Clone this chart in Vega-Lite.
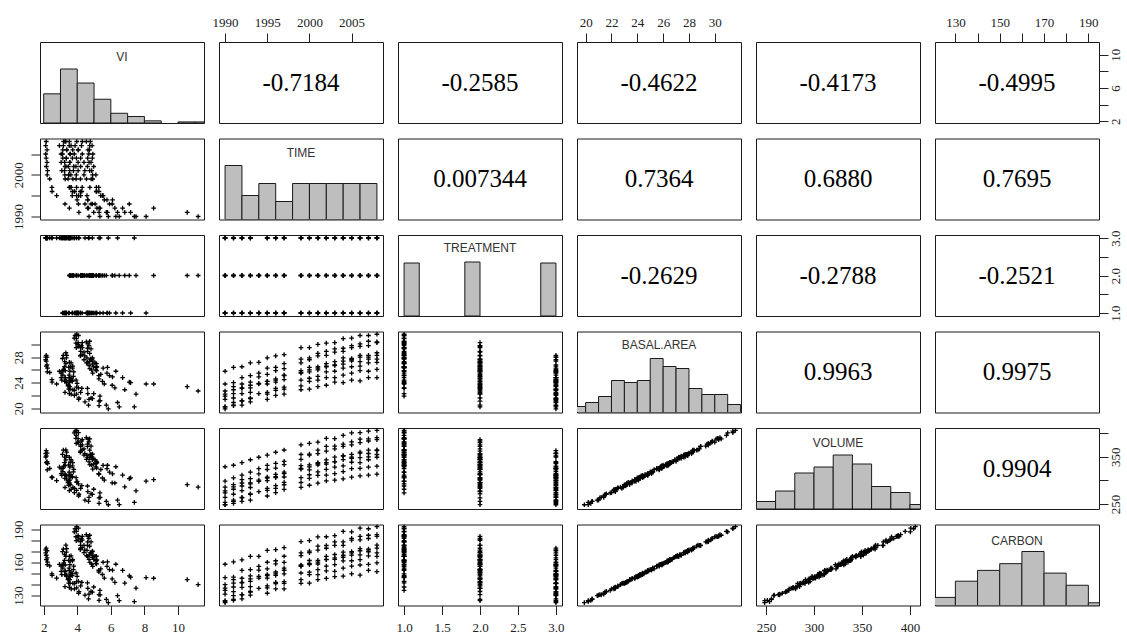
{
"$schema": "https://vega.github.io/schema/vega-lite/v6.json",
"background": "white",
"padding": {"left": 11, "top": 15, "right": 5, "bottom": 0},
"datasets": {
"d": [
{"VI":6.3,"TIME":1990,"TREATMENT":1,"BA":25.8,"VOLUME":328.7,"CARBON":158.5},
{"VI":5.8,"TIME":1991,"TREATMENT":1,"BA":26.4,"VOLUME":331.9,"CARBON":160.7},
{"VI":5.17,"TIME":1992,"TREATMENT":1,"BA":26.5,"VOLUME":337.2,"CARBON":162.4},
{"VI":5.06,"TIME":1993,"TREATMENT":1,"BA":27.1,"VOLUME":343.4,"CARBON":165.6},
{"VI":4.62,"TIME":1994,"TREATMENT":1,"BA":27.2,"VOLUME":348.7,"CARBON":165.7},
{"VI":4.58,"TIME":1995,"TREATMENT":1,"BA":27.9,"VOLUME":353.2,"CARBON":171.2},
{"VI":4.18,"TIME":1996,"TREATMENT":1,"BA":28.2,"VOLUME":359.3,"CARBON":171.9},
{"VI":4.29,"TIME":1997,"TREATMENT":1,"BA":28.4,"VOLUME":364.0,"CARBON":173.7},
{"VI":4.19,"TIME":1999,"TREATMENT":1,"BA":29.5,"VOLUME":375.0,"CARBON":179.2},
{"VI":3.94,"TIME":2000,"TREATMENT":1,"BA":29.5,"VOLUME":378.0,"CARBON":180.0},
{"VI":4.05,"TIME":2001,"TREATMENT":1,"BA":30.0,"VOLUME":380.7,"CARBON":183.5},
{"VI":3.92,"TIME":2002,"TREATMENT":1,"BA":30.2,"VOLUME":388.5,"CARBON":183.6},
{"VI":4.05,"TIME":2003,"TREATMENT":1,"BA":30.3,"VOLUME":387.8,"CARBON":184.6},
{"VI":3.95,"TIME":2004,"TREATMENT":1,"BA":30.9,"VOLUME":395.0,"CARBON":188.6},
{"VI":3.82,"TIME":2005,"TREATMENT":1,"BA":31.0,"VOLUME":400.3,"CARBON":188.0},
{"VI":4.07,"TIME":2006,"TREATMENT":1,"BA":31.4,"VOLUME":400.8,"CARBON":191.4},
{"VI":3.87,"TIME":2007,"TREATMENT":1,"BA":31.4,"VOLUME":403.8,"CARBON":190.9},
{"VI":3.97,"TIME":2008,"TREATMENT":1,"BA":31.6,"VOLUME":405.5,"CARBON":192.8},
{"VI":8.1,"TIME":1990,"TREATMENT":1,"BA":23.8,"VOLUME":298.5,"CARBON":146.2},
{"VI":7.18,"TIME":1991,"TREATMENT":1,"BA":24.0,"VOLUME":305.3,"CARBON":146.8},
{"VI":6.7,"TIME":1992,"TREATMENT":1,"BA":24.8,"VOLUME":311.1,"CARBON":152.9},
{"VI":5.92,"TIME":1993,"TREATMENT":1,"BA":25.1,"VOLUME":317.2,"CARBON":153.5},
{"VI":5.77,"TIME":1994,"TREATMENT":1,"BA":25.5,"VOLUME":324.6,"CARBON":156.6},
{"VI":5.54,"TIME":1995,"TREATMENT":1,"BA":26.3,"VOLUME":331.5,"CARBON":160.3},
{"VI":5.13,"TIME":1996,"TREATMENT":1,"BA":26.4,"VOLUME":335.9,"CARBON":161.7},
{"VI":5.14,"TIME":1997,"TREATMENT":1,"BA":27.0,"VOLUME":340.0,"CARBON":165.8},
{"VI":4.83,"TIME":1999,"TREATMENT":1,"BA":27.7,"VOLUME":354.5,"CARBON":168.8},
{"VI":4.91,"TIME":2000,"TREATMENT":1,"BA":27.9,"VOLUME":355.2,"CARBON":170.4},
{"VI":4.74,"TIME":2001,"TREATMENT":1,"BA":28.6,"VOLUME":363.7,"CARBON":175.0},
{"VI":4.61,"TIME":2002,"TREATMENT":1,"BA":28.9,"VOLUME":371.8,"CARBON":175.6},
{"VI":4.82,"TIME":2003,"TREATMENT":1,"BA":29.3,"VOLUME":372.2,"CARBON":179.0},
{"VI":4.62,"TIME":2004,"TREATMENT":1,"BA":29.4,"VOLUME":376.6,"CARBON":179.0},
{"VI":4.69,"TIME":2005,"TREATMENT":1,"BA":29.8,"VOLUME":381.0,"CARBON":182.2},
{"VI":4.64,"TIME":2006,"TREATMENT":1,"BA":30.1,"VOLUME":387.1,"CARBON":183.9},
{"VI":4.74,"TIME":2007,"TREATMENT":1,"BA":30.5,"VOLUME":387.5,"CARBON":185.0},
{"VI":4.54,"TIME":2008,"TREATMENT":1,"BA":30.4,"VOLUME":390.2,"CARBON":185.5},
{"VI":5.35,"TIME":1990,"TREATMENT":1,"BA":21.9,"VOLUME":273.7,"CARBON":134.6},
{"VI":4.98,"TIME":1991,"TREATMENT":1,"BA":22.3,"VOLUME":281.2,"CARBON":137.7},
{"VI":4.61,"TIME":1992,"TREATMENT":1,"BA":23.1,"VOLUME":288.1,"CARBON":141.4},
{"VI":4.07,"TIME":1993,"TREATMENT":1,"BA":23.2,"VOLUME":292.4,"CARBON":142.8},
{"VI":3.99,"TIME":1994,"TREATMENT":1,"BA":23.9,"VOLUME":297.9,"CARBON":147.4},
{"VI":3.7,"TIME":1995,"TREATMENT":1,"BA":24.2,"VOLUME":307.0,"CARBON":148.1},
{"VI":3.71,"TIME":1996,"TREATMENT":1,"BA":24.4,"VOLUME":307.7,"CARBON":149.7},
{"VI":3.52,"TIME":1997,"TREATMENT":1,"BA":25.2,"VOLUME":317.5,"CARBON":154.9},
{"VI":3.28,"TIME":1999,"TREATMENT":1,"BA":25.9,"VOLUME":331.0,"CARBON":157.8},
{"VI":3.49,"TIME":2000,"TREATMENT":1,"BA":26.4,"VOLUME":332.8,"CARBON":161.9},
{"VI":3.24,"TIME":2001,"TREATMENT":1,"BA":26.5,"VOLUME":337.2,"CARBON":162.0},
{"VI":3.32,"TIME":2002,"TREATMENT":1,"BA":27.0,"VOLUME":343.0,"CARBON":165.7},
{"VI":3.25,"TIME":2003,"TREATMENT":1,"BA":27.3,"VOLUME":349.1,"CARBON":167.4},
{"VI":3.35,"TIME":2004,"TREATMENT":1,"BA":27.9,"VOLUME":352.2,"CARBON":169.6},
{"VI":3.12,"TIME":2005,"TREATMENT":1,"BA":27.8,"VOLUME":354.9,"CARBON":170.1},
{"VI":3.37,"TIME":2006,"TREATMENT":1,"BA":28.3,"VOLUME":359.7,"CARBON":172.8},
{"VI":3.17,"TIME":2007,"TREATMENT":1,"BA":28.3,"VOLUME":363.7,"CARBON":172.3},
{"VI":3.32,"TIME":2008,"TREATMENT":1,"BA":28.7,"VOLUME":364.1,"CARBON":175.9},
{"VI":11.2,"TIME":1990,"TREATMENT":2,"BA":22.7,"VOLUME":285.6,"CARBON":139.8},
{"VI":10.55,"TIME":1991,"TREATMENT":2,"BA":23.4,"VOLUME":291.1,"CARBON":144.5},
{"VI":8.55,"TIME":1992,"TREATMENT":2,"BA":23.8,"VOLUME":301.6,"CARBON":145.7},
{"VI":7.1,"TIME":1993,"TREATMENT":2,"BA":24.1,"VOLUME":303.7,"CARBON":147.9},
{"VI":6.1,"TIME":1994,"TREATMENT":2,"BA":24.9,"VOLUME":313.5,"CARBON":153.1},
{"VI":5.4,"TIME":1995,"TREATMENT":2,"BA":25.3,"VOLUME":322.9,"CARBON":154.3},
{"VI":5.15,"TIME":1996,"TREATMENT":2,"BA":25.9,"VOLUME":326.0,"CARBON":158.8},
{"VI":4.75,"TIME":1997,"TREATMENT":2,"BA":26.2,"VOLUME":333.1,"CARBON":160.2},
{"VI":4.55,"TIME":1999,"TREATMENT":2,"BA":27.1,"VOLUME":344.4,"CARBON":166.3},
{"VI":4.4,"TIME":2000,"TREATMENT":2,"BA":27.6,"VOLUME":353.1,"CARBON":169.1},
{"VI":4.45,"TIME":2001,"TREATMENT":2,"BA":28.2,"VOLUME":356.3,"CARBON":171.4},
{"VI":4.2,"TIME":2002,"TREATMENT":2,"BA":28.3,"VOLUME":361.7,"CARBON":173.1},
{"VI":4.4,"TIME":2003,"TREATMENT":2,"BA":28.8,"VOLUME":366.5,"CARBON":175.7},
{"VI":4.2,"TIME":2004,"TREATMENT":2,"BA":28.9,"VOLUME":371.8,"CARBON":175.8},
{"VI":4.3,"TIME":2005,"TREATMENT":2,"BA":29.5,"VOLUME":375.0,"CARBON":180.6},
{"VI":4.05,"TIME":2006,"TREATMENT":2,"BA":29.7,"VOLUME":379.7,"CARBON":180.7},
{"VI":4.25,"TIME":2007,"TREATMENT":2,"BA":29.8,"VOLUME":383.0,"CARBON":182.0},
{"VI":4.3,"TIME":2008,"TREATMENT":2,"BA":30.3,"VOLUME":385.8,"CARBON":184.0},
{"VI":7.5,"TIME":1990,"TREATMENT":2,"BA":22.2,"VOLUME":277.8,"CARBON":136.7},
{"VI":6.83,"TIME":1991,"TREATMENT":2,"BA":22.9,"VOLUME":286.3,"CARBON":141.3},
{"VI":6.24,"TIME":1992,"TREATMENT":2,"BA":23.2,"VOLUME":294.4,"CARBON":141.9},
{"VI":6.08,"TIME":1993,"TREATMENT":2,"BA":23.6,"VOLUME":294.8,"CARBON":145.2},
{"VI":5.61,"TIME":1994,"TREATMENT":2,"BA":23.8,"VOLUME":300.6,"CARBON":145.9},
{"VI":5.5,"TIME":1995,"TREATMENT":2,"BA":24.2,"VOLUME":305.0,"CARBON":149.1},
{"VI":5.29,"TIME":1996,"TREATMENT":2,"BA":24.6,"VOLUME":312.5,"CARBON":151.4},
{"VI":5.28,"TIME":1997,"TREATMENT":2,"BA":25.1,"VOLUME":314.2,"CARBON":153.0},
{"VI":4.92,"TIME":1999,"TREATMENT":2,"BA":25.5,"VOLUME":323.6,"CARBON":156.5},
{"VI":5.11,"TIME":2000,"TREATMENT":2,"BA":26.0,"VOLUME":328.4,"CARBON":159.2},
{"VI":4.86,"TIME":2001,"TREATMENT":2,"BA":26.0,"VOLUME":332.4,"CARBON":158.7},
{"VI":4.98,"TIME":2002,"TREATMENT":2,"BA":26.5,"VOLUME":334.2,"CARBON":163.0},
{"VI":4.7,"TIME":2003,"TREATMENT":2,"BA":26.7,"VOLUME":338.9,"CARBON":163.0},
{"VI":4.9,"TIME":2004,"TREATMENT":2,"BA":26.9,"VOLUME":343.6,"CARBON":164.9},
{"VI":4.93,"TIME":2005,"TREATMENT":2,"BA":27.4,"VOLUME":346.4,"CARBON":166.9},
{"VI":4.73,"TIME":2006,"TREATMENT":2,"BA":27.3,"VOLUME":348.1,"CARBON":167.1},
{"VI":4.88,"TIME":2007,"TREATMENT":2,"BA":27.7,"VOLUME":349.5,"CARBON":169.9},
{"VI":4.78,"TIME":2008,"TREATMENT":2,"BA":27.7,"VOLUME":354.5,"CARBON":168.8},
{"VI":6.5,"TIME":1990,"TREATMENT":2,"BA":20.2,"VOLUME":248.7,"CARBON":125.2},
{"VI":5.73,"TIME":1991,"TREATMENT":2,"BA":20.5,"VOLUME":255.7,"CARBON":126.4},
{"VI":5.3,"TIME":1992,"TREATMENT":2,"BA":21.1,"VOLUME":262.9,"CARBON":130.8},
{"VI":4.82,"TIME":1993,"TREATMENT":2,"BA":21.6,"VOLUME":271.7,"CARBON":133.6},
{"VI":4.63,"TIME":1994,"TREATMENT":2,"BA":22.3,"VOLUME":276.2,"CARBON":136.5},
{"VI":4.2,"TIME":1995,"TREATMENT":2,"BA":22.5,"VOLUME":282.9,"CARBON":138.8},
{"VI":4.27,"TIME":1996,"TREATMENT":2,"BA":23.1,"VOLUME":289.1,"CARBON":142.0},
{"VI":3.96,"TIME":1997,"TREATMENT":2,"BA":23.3,"VOLUME":295.8,"CARBON":142.7},
{"VI":3.93,"TIME":1999,"TREATMENT":2,"BA":24.4,"VOLUME":305.7,"CARBON":150.5},
{"VI":3.62,"TIME":2000,"TREATMENT":2,"BA":24.7,"VOLUME":311.8,"CARBON":151.2},
{"VI":3.77,"TIME":2001,"TREATMENT":2,"BA":25.0,"VOLUME":317.8,"CARBON":153.6},
{"VI":3.79,"TIME":2002,"TREATMENT":2,"BA":25.7,"VOLUME":323.3,"CARBON":156.8},
{"VI":3.56,"TIME":2003,"TREATMENT":2,"BA":25.8,"VOLUME":327.7,"CARBON":158.2},
{"VI":3.71,"TIME":2004,"TREATMENT":2,"BA":26.3,"VOLUME":330.5,"CARBON":161.6},
{"VI":3.58,"TIME":2005,"TREATMENT":2,"BA":26.5,"VOLUME":338.2,"CARBON":161.7},
{"VI":3.73,"TIME":2006,"TREATMENT":2,"BA":26.6,"VOLUME":337.5,"CARBON":162.7},
{"VI":3.63,"TIME":2007,"TREATMENT":2,"BA":27.1,"VOLUME":343.4,"CARBON":166.2},
{"VI":3.53,"TIME":2008,"TREATMENT":2,"BA":27.2,"VOLUME":348.7,"CARBON":165.6},
{"VI":4.7,"TIME":1990,"TREATMENT":3,"BA":21.4,"VOLUME":264.0,"CARBON":131.2},
{"VI":4.1,"TIME":1991,"TREATMENT":3,"BA":21.6,"VOLUME":270.7,"CARBON":133.4},
{"VI":3.53,"TIME":1992,"TREATMENT":3,"BA":22.3,"VOLUME":278.2,"CARBON":137.3},
{"VI":3.27,"TIME":1993,"TREATMENT":3,"BA":22.5,"VOLUME":284.9,"CARBON":138.0},
{"VI":2.77,"TIME":1995,"TREATMENT":3,"BA":23.8,"VOLUME":299.6,"CARBON":145.8},
{"VI":2.5,"TIME":1996,"TREATMENT":3,"BA":24.1,"VOLUME":305.7,"CARBON":148.3},
{"VI":2.49,"TIME":1997,"TREATMENT":3,"BA":24.5,"VOLUME":307.1,"CARBON":149.7},
{"VI":2.36,"TIME":1999,"TREATMENT":3,"BA":25.6,"VOLUME":325.0,"CARBON":157.0},
{"VI":2.21,"TIME":2000,"TREATMENT":3,"BA":25.7,"VOLUME":322.3,"CARBON":158.1},
{"VI":2.23,"TIME":2001,"TREATMENT":3,"BA":26.3,"VOLUME":335.5,"CARBON":160.5},
{"VI":2.16,"TIME":2002,"TREATMENT":3,"BA":26.6,"VOLUME":337.5,"CARBON":162.7},
{"VI":2.2,"TIME":2003,"TREATMENT":3,"BA":26.8,"VOLUME":339.3,"CARBON":164.4},
{"VI":2.15,"TIME":2004,"TREATMENT":3,"BA":27.4,"VOLUME":351.4,"CARBON":166.7},
{"VI":2.12,"TIME":2005,"TREATMENT":3,"BA":27.6,"VOLUME":349.1,"CARBON":168.9},
{"VI":2.2,"TIME":2006,"TREATMENT":3,"BA":28.0,"VOLUME":357.6,"CARBON":170.8},
{"VI":2.12,"TIME":2007,"TREATMENT":3,"BA":28.0,"VOLUME":356.6,"CARBON":171.6},
{"VI":2.15,"TIME":2008,"TREATMENT":3,"BA":28.3,"VOLUME":362.7,"CARBON":173.3},
{"VI":7.4,"TIME":1990,"TREATMENT":3,"BA":20.2,"VOLUME":253.7,"CARBON":124.4},
{"VI":6.4,"TIME":1991,"TREATMENT":3,"BA":20.9,"VOLUME":258.2,"CARBON":129.8},
{"VI":5.36,"TIME":1992,"TREATMENT":3,"BA":21.2,"VOLUME":264.2,"CARBON":130.5},
{"VI":4.9,"TIME":1993,"TREATMENT":3,"BA":21.5,"VOLUME":270.3,"CARBON":133.0},
{"VI":3.96,"TIME":1995,"TREATMENT":3,"BA":22.2,"VOLUME":278.8,"CARBON":136.9},
{"VI":3.84,"TIME":1996,"TREATMENT":3,"BA":22.8,"VOLUME":283.0,"CARBON":140.9},
{"VI":3.57,"TIME":1997,"TREATMENT":3,"BA":23.0,"VOLUME":290.7,"CARBON":141.0},
{"VI":3.45,"TIME":1999,"TREATMENT":3,"BA":23.5,"VOLUME":295.5,"CARBON":144.4},
{"VI":3.26,"TIME":2000,"TREATMENT":3,"BA":24.2,"VOLUME":304.0,"CARBON":149.0},
{"VI":3.08,"TIME":2001,"TREATMENT":3,"BA":24.4,"VOLUME":310.7,"CARBON":149.0},
{"VI":3.28,"TIME":2002,"TREATMENT":3,"BA":24.8,"VOLUME":311.1,"CARBON":152.4},
{"VI":3.04,"TIME":2003,"TREATMENT":3,"BA":24.8,"VOLUME":314.1,"CARBON":151.9},
{"VI":3.14,"TIME":2004,"TREATMENT":3,"BA":25.2,"VOLUME":318.6,"CARBON":155.0},
{"VI":3.04,"TIME":2005,"TREATMENT":3,"BA":25.5,"VOLUME":324.6,"CARBON":156.7},
{"VI":3.14,"TIME":2006,"TREATMENT":3,"BA":25.9,"VOLUME":325.1,"CARBON":157.8},
{"VI":2.94,"TIME":2007,"TREATMENT":3,"BA":25.8,"VOLUME":327.7,"CARBON":158.3},
{"VI":3.19,"TIME":2008,"TREATMENT":3,"BA":26.1,"VOLUME":329.8,"CARBON":159.7},
{"VI":5.85,"TIME":1990,"TREATMENT":3,"BA":19.9,"VOLUME":248.6,"CARBON":123.5},
{"VI":5.3,"TIME":1991,"TREATMENT":3,"BA":20.4,"VOLUME":251.4,"CARBON":125.5},
{"VI":4.67,"TIME":1992,"TREATMENT":3,"BA":20.5,"VOLUME":255.7,"CARBON":126.9},
{"VI":4.46,"TIME":1993,"TREATMENT":3,"BA":21.0,"VOLUME":258.5,"CARBON":130.3},
{"VI":4.08,"TIME":1995,"TREATMENT":3,"BA":21.4,"VOLUME":267.0,"CARBON":132.0},
{"VI":3.83,"TIME":1996,"TREATMENT":3,"BA":22.0,"VOLUME":274.1,"CARBON":136.0},
{"VI":3.64,"TIME":1997,"TREATMENT":3,"BA":22.2,"VOLUME":280.8,"CARBON":136.0},
{"VI":3.74,"TIME":1999,"TREATMENT":3,"BA":22.9,"VOLUME":285.3,"CARBON":141.1},
{"VI":3.49,"TIME":2000,"TREATMENT":3,"BA":23.0,"VOLUME":289.7,"CARBON":141.2},
{"VI":3.55,"TIME":2001,"TREATMENT":3,"BA":23.4,"VOLUME":294.1,"CARBON":144.4},
{"VI":3.47,"TIME":2002,"TREATMENT":3,"BA":23.6,"VOLUME":298.8,"CARBON":145.5},
{"VI":3.55,"TIME":2003,"TREATMENT":3,"BA":24.1,"VOLUME":300.6,"CARBON":147.1},
{"VI":3.35,"TIME":2004,"TREATMENT":3,"BA":24.0,"VOLUME":303.3,"CARBON":147.6},
{"VI":3.57,"TIME":2005,"TREATMENT":3,"BA":24.4,"VOLUME":306.7,"CARBON":149.7},
{"VI":3.37,"TIME":2006,"TREATMENT":3,"BA":24.3,"VOLUME":309.3,"CARBON":148.6},
{"VI":3.52,"TIME":2007,"TREATMENT":3,"BA":24.8,"VOLUME":311.1,"CARBON":152.9},
{"VI":3.27,"TIME":2008,"TREATMENT":3,"BA":24.8,"VOLUME":313.1,"CARBON":151.8}
],
"h": [
{"v":"VI","b0":2,"b1":3,"n":27},{"v":"VI","b0":3,"b1":4,"n":50},{"v":"VI","b0":4,"b1":5,"n":37},{"v":"VI","b0":5,"b1":6,"n":22},{"v":"VI","b0":6,"b1":7,"n":9},{"v":"VI","b0":7,"b1":8,"n":6},{"v":"VI","b0":8,"b1":9,"n":2},{"v":"VI","b0":10,"b1":11,"n":1},{"v":"VI","b0":11,"b1":12,"n":1},
{"v":"TIME","b0":1990,"b1":1992,"n":27},{"v":"TIME","b0":1992,"b1":1994,"n":12},{"v":"TIME","b0":1994,"b1":1996,"n":18},{"v":"TIME","b0":1996,"b1":1998,"n":9},{"v":"TIME","b0":1998,"b1":2000,"n":18},{"v":"TIME","b0":2000,"b1":2002,"n":18},{"v":"TIME","b0":2002,"b1":2004,"n":18},{"v":"TIME","b0":2004,"b1":2006,"n":18},{"v":"TIME","b0":2006,"b1":2008,"n":18},
{"v":"TREATMENT","b0":1,"b1":1.2,"n":52},{"v":"TREATMENT","b0":1.8,"b1":2,"n":53},{"v":"TREATMENT","b0":2.8,"b1":3,"n":52},
{"v":"BA","b0":19,"b1":20,"n":3},{"v":"BA","b0":20,"b1":21,"n":5},{"v":"BA","b0":21,"b1":22,"n":8},{"v":"BA","b0":22,"b1":23,"n":16},{"v":"BA","b0":23,"b1":24,"n":15},{"v":"BA","b0":24,"b1":25,"n":16},{"v":"BA","b0":25,"b1":26,"n":27},{"v":"BA","b0":26,"b1":27,"n":23},{"v":"BA","b0":27,"b1":28,"n":22},{"v":"BA","b0":28,"b1":29,"n":12},{"v":"BA","b0":29,"b1":30,"n":9},{"v":"BA","b0":30,"b1":31,"n":9},{"v":"BA","b0":31,"b1":32,"n":4},
{"v":"VOLUME","b0":240,"b1":260,"n":5},{"v":"VOLUME","b0":260,"b1":280,"n":12},{"v":"VOLUME","b0":280,"b1":300,"n":24},{"v":"VOLUME","b0":300,"b1":320,"n":28},{"v":"VOLUME","b0":320,"b1":340,"n":36},{"v":"VOLUME","b0":340,"b1":360,"n":30},{"v":"VOLUME","b0":360,"b1":380,"n":15},{"v":"VOLUME","b0":380,"b1":400,"n":11},{"v":"VOLUME","b0":400,"b1":420,"n":3},
{"v":"CARBON","b0":120,"b1":130,"n":6},{"v":"CARBON","b0":130,"b1":140,"n":18},{"v":"CARBON","b0":140,"b1":150,"n":26},{"v":"CARBON","b0":150,"b1":160,"n":31},{"v":"CARBON","b0":160,"b1":170,"n":40},{"v":"CARBON","b0":170,"b1":180,"n":24},{"v":"CARBON","b0":180,"b1":190,"n":15},{"v":"CARBON","b0":190,"b1":200,"n":2}
]
},
"config": {
"view": {"stroke": "#1a1a1a", "strokeWidth": 1},
"axis": {"labelFont": "Liberation Serif", "labelFontSize": 13, "labelColor": "#222", "tickColor": "#222", "tickSize": 9, "tickWidth": 1, "domain": false, "grid": false, "title": null, "labelPadding": 4, "labelFlush": false, "labelOverlap": false},
"point": {"shape": "M-1,0L1,0M0,-1L0,1", "size": 22, "strokeWidth": 1.3, "color": "#000", "filled": false, "opacity": 1},
"bar": {"color": "#bebebe", "stroke": "#1a1a1a", "strokeWidth": 1}
},
"columns": 6,
"spacing": {"row": 15.5, "column": 15},
"bounds": "flush",
"concat": [
{"width":164,"height":81,"layer":[
 {"data":{"name":"h"},"transform":[{"filter":"datum.v=='VI'"}],"mark":{"type":"bar","clip":true},"encoding":{"x":{"field":"b0","type":"quantitative","scale":{"domain":[1.78,11.55],"nice":false,"zero":false},"axis":null},"x2":{"field":"b1"},"y":{"field":"n","type":"quantitative","scale":{"domain":[0,75],"nice":false},"axis":null},"y2":{"datum":0}}},
 {"data":{"values":[{"lab":"VI"}]},"mark":{"type":"text","font":"Liberation Sans","fontSize":12,"color":"#333"},"encoding":{"text":{"field":"lab"},"x":{"datum":6.665,"type":"quantitative"},"y":{"datum":61.3,"type":"quantitative"}}}
]},
{"width":164,"height":81,"data":{"values":[{"r":"-0.7184"}]},"mark":{"type":"text","font":"Liberation Serif","fontSize":25,"color":"#000"},"encoding":{"text":{"field":"r"},"x":{"datum":1999,"type":"quantitative","scale":{"domain":[1989.28,2008.72],"nice":false,"zero":false},"axis":{"orient":"top","values":[1990,1995,2000,2005],"format":"d"}},"y":{"datum":6.665,"type":"quantitative","scale":{"domain":[1.78,11.55],"nice":false,"zero":false},"axis":null}}},
{"width":164,"height":81,"data":{"values":[{"r":"-0.2585"}]},"mark":{"type":"text","font":"Liberation Serif","fontSize":25,"color":"#000"},"encoding":{"text":{"field":"r"},"x":{"datum":2,"type":"quantitative","scale":{"domain":[0.92,3.08],"nice":false,"zero":false},"axis":null},"y":{"datum":6.665,"type":"quantitative","scale":{"domain":[1.78,11.55],"nice":false,"zero":false},"axis":null}}},
{"width":164,"height":81,"data":{"values":[{"r":"-0.4622"}]},"mark":{"type":"text","font":"Liberation Serif","fontSize":25,"color":"#000"},"encoding":{"text":{"field":"r"},"x":{"datum":25.68,"type":"quantitative","scale":{"domain":[19.33,32.03],"nice":false,"zero":false},"axis":{"orient":"top","values":[20,22,24,26,28,30]}},"y":{"datum":6.665,"type":"quantitative","scale":{"domain":[1.78,11.55],"nice":false,"zero":false},"axis":null}}},
{"width":164,"height":81,"data":{"values":[{"r":"-0.4173"}]},"mark":{"type":"text","font":"Liberation Serif","fontSize":25,"color":"#000"},"encoding":{"text":{"field":"r"},"x":{"datum":325,"type":"quantitative","scale":{"domain":[239.6,410.4],"nice":false,"zero":false},"axis":null},"y":{"datum":6.665,"type":"quantitative","scale":{"domain":[1.78,11.55],"nice":false,"zero":false},"axis":null}}},
{"width":164,"height":81,"data":{"values":[{"r":"-0.4995"}]},"mark":{"type":"text","font":"Liberation Serif","fontSize":25,"color":"#000"},"encoding":{"text":{"field":"r"},"x":{"datum":157.8,"type":"quantitative","scale":{"domain":[120.8,194.8],"nice":false,"zero":false},"axis":{"orient":"top","values":[130,140,150,160,170,180,190],"labelExpr":"datum.value % 20 == 10 ? datum.label : ''"}},"y":{"datum":6.665,"type":"quantitative","scale":{"domain":[1.78,11.55],"nice":false,"zero":false},"axis":{"orient":"right","values":[2,4,6,8,10],"labelExpr":"datum.value % 4 == 2 ? datum.label : ''","labelAngle":-90,"labelAlign":"center","labelBaseline":"top","labelPadding":1}}}},

{"width":164,"height":81,"data":{"name":"d"},"mark":{"type":"point","clip":true},"encoding":{"x":{"field":"VI","type":"quantitative","scale":{"domain":[1.78,11.55],"nice":false,"zero":false},"axis":null},"y":{"field":"TIME","type":"quantitative","scale":{"domain":[1989.28,2008.72],"nice":false,"zero":false},"axis":{"orient":"left","values":[1990,1995,2000,2005],"format":"d","labelExpr":"datum.value % 10 == 0 ? datum.label : ''","labelAngle":-90,"labelAlign":"center","labelBaseline":"bottom","labelPadding":6}}}},
{"width":164,"height":81,"layer":[
 {"data":{"name":"h"},"transform":[{"filter":"datum.v=='TIME'"}],"mark":{"type":"bar","clip":true},"encoding":{"x":{"field":"b0","type":"quantitative","scale":{"domain":[1989.28,2008.72],"nice":false,"zero":false},"axis":null},"x2":{"field":"b1"},"y":{"field":"n","type":"quantitative","scale":{"domain":[0,40.5],"nice":false},"axis":null},"y2":{"datum":0}}},
 {"data":{"values":[{"lab":"TIME"}]},"mark":{"type":"text","font":"Liberation Sans","fontSize":12,"color":"#333"},"encoding":{"text":{"field":"lab"},"x":{"datum":1999,"type":"quantitative"},"y":{"datum":33.1,"type":"quantitative"}}}
]},
{"width":164,"height":81,"data":{"values":[{"r":"0.007344"}]},"mark":{"type":"text","font":"Liberation Serif","fontSize":25,"color":"#000"},"encoding":{"text":{"field":"r"},"x":{"datum":2,"type":"quantitative","scale":{"domain":[0.92,3.08],"nice":false,"zero":false},"axis":null},"y":{"datum":1999,"type":"quantitative","scale":{"domain":[1989.28,2008.72],"nice":false,"zero":false},"axis":null}}},
{"width":164,"height":81,"data":{"values":[{"r":"0.7364"}]},"mark":{"type":"text","font":"Liberation Serif","fontSize":25,"color":"#000"},"encoding":{"text":{"field":"r"},"x":{"datum":25.68,"type":"quantitative","scale":{"domain":[19.33,32.03],"nice":false,"zero":false},"axis":null},"y":{"datum":1999,"type":"quantitative","scale":{"domain":[1989.28,2008.72],"nice":false,"zero":false},"axis":null}}},
{"width":164,"height":81,"data":{"values":[{"r":"0.6880"}]},"mark":{"type":"text","font":"Liberation Serif","fontSize":25,"color":"#000"},"encoding":{"text":{"field":"r"},"x":{"datum":325,"type":"quantitative","scale":{"domain":[239.6,410.4],"nice":false,"zero":false},"axis":null},"y":{"datum":1999,"type":"quantitative","scale":{"domain":[1989.28,2008.72],"nice":false,"zero":false},"axis":null}}},
{"width":164,"height":81,"data":{"values":[{"r":"0.7695"}]},"mark":{"type":"text","font":"Liberation Serif","fontSize":25,"color":"#000"},"encoding":{"text":{"field":"r"},"x":{"datum":157.8,"type":"quantitative","scale":{"domain":[120.8,194.8],"nice":false,"zero":false},"axis":null},"y":{"datum":1999,"type":"quantitative","scale":{"domain":[1989.28,2008.72],"nice":false,"zero":false},"axis":null}}},

{"width":164,"height":81,"data":{"name":"d"},"mark":{"type":"point","clip":true},"encoding":{"x":{"field":"VI","type":"quantitative","scale":{"domain":[1.78,11.55],"nice":false,"zero":false},"axis":null},"y":{"field":"TREATMENT","type":"quantitative","scale":{"domain":[0.92,3.08],"nice":false,"zero":false},"axis":null}}},
{"width":164,"height":81,"data":{"name":"d"},"mark":{"type":"point","clip":true},"encoding":{"x":{"field":"TIME","type":"quantitative","scale":{"domain":[1989.28,2008.72],"nice":false,"zero":false},"axis":null},"y":{"field":"TREATMENT","type":"quantitative","scale":{"domain":[0.92,3.08],"nice":false,"zero":false},"axis":null}}},
{"width":164,"height":81,"layer":[
 {"data":{"name":"h"},"transform":[{"filter":"datum.v=='TREATMENT'"}],"mark":{"type":"bar","clip":true},"encoding":{"x":{"field":"b0","type":"quantitative","scale":{"domain":[0.92,3.08],"nice":false,"zero":false},"axis":null},"x2":{"field":"b1"},"y":{"field":"n","type":"quantitative","scale":{"domain":[0,79.5],"nice":false},"axis":null},"y2":{"datum":0}}},
 {"data":{"values":[{"lab":"TREATMENT"}]},"mark":{"type":"text","font":"Liberation Sans","fontSize":12,"color":"#333"},"encoding":{"text":{"field":"lab"},"x":{"datum":2,"type":"quantitative"},"y":{"datum":66.9,"type":"quantitative"}}}
]},
{"width":164,"height":81,"data":{"values":[{"r":"-0.2629"}]},"mark":{"type":"text","font":"Liberation Serif","fontSize":25,"color":"#000"},"encoding":{"text":{"field":"r"},"x":{"datum":25.68,"type":"quantitative","scale":{"domain":[19.33,32.03],"nice":false,"zero":false},"axis":null},"y":{"datum":2,"type":"quantitative","scale":{"domain":[0.92,3.08],"nice":false,"zero":false},"axis":null}}},
{"width":164,"height":81,"data":{"values":[{"r":"-0.2788"}]},"mark":{"type":"text","font":"Liberation Serif","fontSize":25,"color":"#000"},"encoding":{"text":{"field":"r"},"x":{"datum":325,"type":"quantitative","scale":{"domain":[239.6,410.4],"nice":false,"zero":false},"axis":null},"y":{"datum":2,"type":"quantitative","scale":{"domain":[0.92,3.08],"nice":false,"zero":false},"axis":null}}},
{"width":164,"height":81,"data":{"values":[{"r":"-0.2521"}]},"mark":{"type":"text","font":"Liberation Serif","fontSize":25,"color":"#000"},"encoding":{"text":{"field":"r"},"x":{"datum":157.8,"type":"quantitative","scale":{"domain":[120.8,194.8],"nice":false,"zero":false},"axis":null},"y":{"datum":2,"type":"quantitative","scale":{"domain":[0.92,3.08],"nice":false,"zero":false},"axis":{"orient":"right","values":[1,1.5,2,2.5,3],"format":".1f","labelExpr":"datum.value % 1 == 0 ? datum.label : ''","labelAngle":-90,"labelAlign":"center","labelBaseline":"top","labelPadding":1}}}},

{"width":164,"height":81,"data":{"name":"d"},"mark":{"type":"point","clip":true},"encoding":{"x":{"field":"VI","type":"quantitative","scale":{"domain":[1.78,11.55],"nice":false,"zero":false},"axis":null},"y":{"field":"BA","type":"quantitative","scale":{"domain":[19.33,32.03],"nice":false,"zero":false},"axis":{"orient":"left","values":[20,22,24,26,28,30],"labelExpr":"datum.value % 4 == 0 ? datum.label : ''","labelAngle":-90,"labelAlign":"center","labelBaseline":"bottom","labelPadding":6}}}},
{"width":164,"height":81,"data":{"name":"d"},"mark":{"type":"point","clip":true},"encoding":{"x":{"field":"TIME","type":"quantitative","scale":{"domain":[1989.28,2008.72],"nice":false,"zero":false},"axis":null},"y":{"field":"BA","type":"quantitative","scale":{"domain":[19.33,32.03],"nice":false,"zero":false},"axis":null}}},
{"width":164,"height":81,"data":{"name":"d"},"mark":{"type":"point","clip":true},"encoding":{"x":{"field":"TREATMENT","type":"quantitative","scale":{"domain":[0.92,3.08],"nice":false,"zero":false},"axis":null},"y":{"field":"BA","type":"quantitative","scale":{"domain":[19.33,32.03],"nice":false,"zero":false},"axis":null}}},
{"width":164,"height":81,"layer":[
 {"data":{"name":"h"},"transform":[{"filter":"datum.v=='BA'"}],"mark":{"type":"bar","clip":true},"encoding":{"x":{"field":"b0","type":"quantitative","scale":{"domain":[19.33,32.03],"nice":false,"zero":false},"axis":null},"x2":{"field":"b1"},"y":{"field":"n","type":"quantitative","scale":{"domain":[0,40.5],"nice":false},"axis":null},"y2":{"datum":0}}},
 {"data":{"values":[{"lab":"BASAL.AREA"}]},"mark":{"type":"text","font":"Liberation Sans","fontSize":12,"color":"#333"},"encoding":{"text":{"field":"lab"},"x":{"datum":25.68,"type":"quantitative"},"y":{"datum":33.7,"type":"quantitative"}}}
]},
{"width":164,"height":81,"data":{"values":[{"r":"0.9963"}]},"mark":{"type":"text","font":"Liberation Serif","fontSize":25,"color":"#000"},"encoding":{"text":{"field":"r"},"x":{"datum":325,"type":"quantitative","scale":{"domain":[239.6,410.4],"nice":false,"zero":false},"axis":null},"y":{"datum":25.68,"type":"quantitative","scale":{"domain":[19.33,32.03],"nice":false,"zero":false},"axis":null}}},
{"width":164,"height":81,"data":{"values":[{"r":"0.9975"}]},"mark":{"type":"text","font":"Liberation Serif","fontSize":25,"color":"#000"},"encoding":{"text":{"field":"r"},"x":{"datum":157.8,"type":"quantitative","scale":{"domain":[120.8,194.8],"nice":false,"zero":false},"axis":null},"y":{"datum":25.68,"type":"quantitative","scale":{"domain":[19.33,32.03],"nice":false,"zero":false},"axis":null}}},

{"width":164,"height":81,"data":{"name":"d"},"mark":{"type":"point","clip":true},"encoding":{"x":{"field":"VI","type":"quantitative","scale":{"domain":[1.78,11.55],"nice":false,"zero":false},"axis":null},"y":{"field":"VOLUME","type":"quantitative","scale":{"domain":[239.6,410.4],"nice":false,"zero":false},"axis":null}}},
{"width":164,"height":81,"data":{"name":"d"},"mark":{"type":"point","clip":true},"encoding":{"x":{"field":"TIME","type":"quantitative","scale":{"domain":[1989.28,2008.72],"nice":false,"zero":false},"axis":null},"y":{"field":"VOLUME","type":"quantitative","scale":{"domain":[239.6,410.4],"nice":false,"zero":false},"axis":null}}},
{"width":164,"height":81,"data":{"name":"d"},"mark":{"type":"point","clip":true},"encoding":{"x":{"field":"TREATMENT","type":"quantitative","scale":{"domain":[0.92,3.08],"nice":false,"zero":false},"axis":null},"y":{"field":"VOLUME","type":"quantitative","scale":{"domain":[239.6,410.4],"nice":false,"zero":false},"axis":null}}},
{"width":164,"height":81,"data":{"name":"d"},"mark":{"type":"point","clip":true},"encoding":{"x":{"field":"BA","type":"quantitative","scale":{"domain":[19.33,32.03],"nice":false,"zero":false},"axis":null},"y":{"field":"VOLUME","type":"quantitative","scale":{"domain":[239.6,410.4],"nice":false,"zero":false},"axis":null}}},
{"width":164,"height":81,"layer":[
 {"data":{"name":"h"},"transform":[{"filter":"datum.v=='VOLUME'"}],"mark":{"type":"bar","clip":true},"encoding":{"x":{"field":"b0","type":"quantitative","scale":{"domain":[239.6,410.4],"nice":false,"zero":false},"axis":null},"x2":{"field":"b1"},"y":{"field":"n","type":"quantitative","scale":{"domain":[0,54],"nice":false},"axis":null},"y2":{"datum":0}}},
 {"data":{"values":[{"lab":"VOLUME"}]},"mark":{"type":"text","font":"Liberation Sans","fontSize":12,"color":"#333"},"encoding":{"text":{"field":"lab"},"x":{"datum":325,"type":"quantitative"},"y":{"datum":44.1,"type":"quantitative"}}}
]},
{"width":164,"height":81,"data":{"values":[{"r":"0.9904"}]},"mark":{"type":"text","font":"Liberation Serif","fontSize":25,"color":"#000"},"encoding":{"text":{"field":"r"},"x":{"datum":157.8,"type":"quantitative","scale":{"domain":[120.8,194.8],"nice":false,"zero":false},"axis":null},"y":{"datum":325,"type":"quantitative","scale":{"domain":[239.6,410.4],"nice":false,"zero":false},"axis":{"orient":"right","values":[250,300,350,400],"labelExpr":"datum.value % 100 == 50 ? datum.label : ''","labelAngle":-90,"labelAlign":"center","labelBaseline":"top","labelPadding":1}}}},

{"width":164,"height":81,"data":{"name":"d"},"mark":{"type":"point","clip":true},"encoding":{"x":{"field":"VI","type":"quantitative","scale":{"domain":[1.78,11.55],"nice":false,"zero":false},"axis":{"orient":"bottom","values":[2,4,6,8,10],"labelPadding":7}},"y":{"field":"CARBON","type":"quantitative","scale":{"domain":[120.8,194.8],"nice":false,"zero":false},"axis":{"orient":"left","values":[130,140,150,160,170,180,190],"labelExpr":"(datum.value - 130) % 30 == 0 ? datum.label : ''","labelAngle":-90,"labelAlign":"center","labelBaseline":"bottom","labelPadding":6}}}},
{"width":164,"height":81,"data":{"name":"d"},"mark":{"type":"point","clip":true},"encoding":{"x":{"field":"TIME","type":"quantitative","scale":{"domain":[1989.28,2008.72],"nice":false,"zero":false},"axis":null},"y":{"field":"CARBON","type":"quantitative","scale":{"domain":[120.8,194.8],"nice":false,"zero":false},"axis":null}}},
{"width":164,"height":81,"data":{"name":"d"},"mark":{"type":"point","clip":true},"encoding":{"x":{"field":"TREATMENT","type":"quantitative","scale":{"domain":[0.92,3.08],"nice":false,"zero":false},"axis":{"orient":"bottom","values":[1,1.5,2,2.5,3],"format":".1f","labelPadding":7}},"y":{"field":"CARBON","type":"quantitative","scale":{"domain":[120.8,194.8],"nice":false,"zero":false},"axis":null}}},
{"width":164,"height":81,"data":{"name":"d"},"mark":{"type":"point","clip":true},"encoding":{"x":{"field":"BA","type":"quantitative","scale":{"domain":[19.33,32.03],"nice":false,"zero":false},"axis":null},"y":{"field":"CARBON","type":"quantitative","scale":{"domain":[120.8,194.8],"nice":false,"zero":false},"axis":null}}},
{"width":164,"height":81,"data":{"name":"d"},"mark":{"type":"point","clip":true},"encoding":{"x":{"field":"VOLUME","type":"quantitative","scale":{"domain":[239.6,410.4],"nice":false,"zero":false},"axis":{"orient":"bottom","values":[250,300,350,400],"labelPadding":7}},"y":{"field":"CARBON","type":"quantitative","scale":{"domain":[120.8,194.8],"nice":false,"zero":false},"axis":null}}},
{"width":164,"height":81,"layer":[
 {"data":{"name":"h"},"transform":[{"filter":"datum.v=='CARBON'"}],"mark":{"type":"bar","clip":true},"encoding":{"x":{"field":"b0","type":"quantitative","scale":{"domain":[120.8,194.8],"nice":false,"zero":false},"axis":null},"x2":{"field":"b1"},"y":{"field":"n","type":"quantitative","scale":{"domain":[0,60],"nice":false},"axis":null},"y2":{"datum":0}}},
 {"data":{"values":[{"lab":"CARBON"}]},"mark":{"type":"text","font":"Liberation Sans","fontSize":12,"color":"#333"},"encoding":{"text":{"field":"lab"},"x":{"datum":157.8,"type":"quantitative"},"y":{"datum":47.6,"type":"quantitative"}}}
]}
]
}
